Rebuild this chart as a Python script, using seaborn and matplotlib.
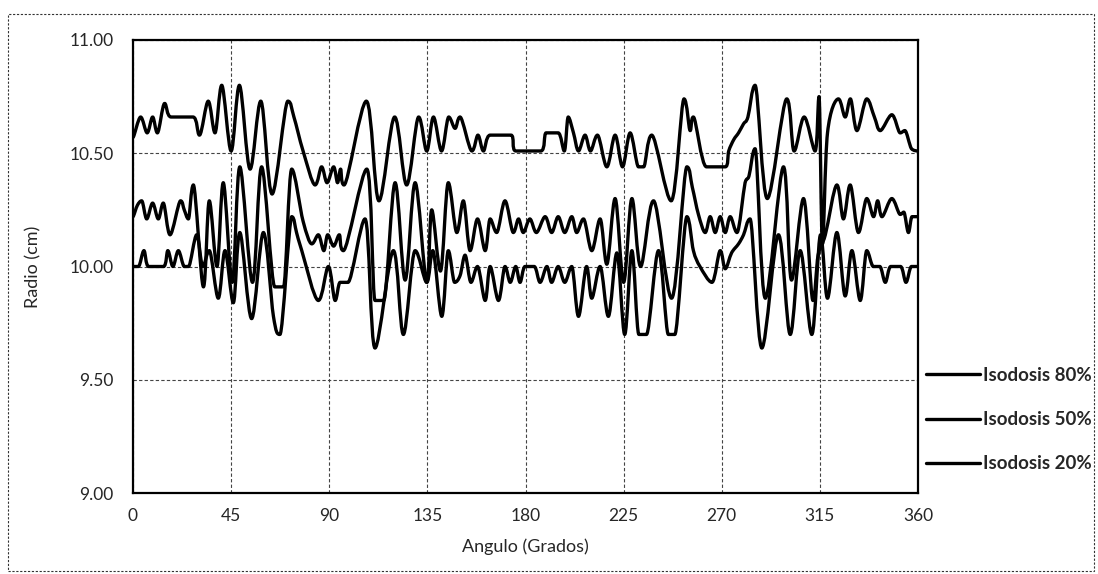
import matplotlib
matplotlib.use("Agg")
import matplotlib.pyplot as plt
from matplotlib.patches import Rectangle, PathPatch
from matplotlib.path import Path
import numpy as np
import seaborn as sns
import pandas as pd

# Radio de cada isodosis (cm) en función del ángulo (grados)
ang80 = [0, 3.5, 6.5, 9, 11.2, 14.5, 17.5, 27.5, 30.5, 34.5, 37.6, 40.7, 45, 48.8,
         53.7, 58.6, 63.8, 71, 73.8, 78, 83.5, 86.5, 89, 92, 93.8, 95.2, 96.8, 107,
         112.8, 120, 125.5, 131, 134.7, 137.8, 141.5, 144.8, 147.7, 150, 155.4, 158.2,
         160.7, 163.8, 173.3, 175.6, 187, 189.5, 195, 197.8, 199.6, 202, 204.3, 207.3,
         209.8, 213, 217.3, 221.1, 224.5, 228, 231.8, 234.2, 237.9, 246.8, 252.7, 255.5,
         257, 263, 271.6, 273.2, 275.5, 277.7, 280, 282, 285.3, 290.9, 299.8, 303.2,
         307.8, 312.8, 314.6, 316.2, 318.5, 323.5, 326.6, 329, 332, 336.5, 340, 342.7,
         348, 351.8, 354, 357, 360]
r80 = [10.57, 10.66, 10.59, 10.66, 10.59, 10.72, 10.66, 10.66, 10.58, 10.73, 10.59, 10.80,
       10.51, 10.80, 10.43, 10.73, 10.32, 10.73, 10.66, 10.51, 10.36, 10.44, 10.37, 10.44,
       10.37, 10.43, 10.36, 10.73, 10.29, 10.66, 10.36, 10.66, 10.51, 10.66, 10.51, 10.66,
       10.61, 10.66, 10.51, 10.58, 10.51, 10.58, 10.58, 10.51, 10.51, 10.59, 10.59, 10.51,
       10.66, 10.59, 10.51, 10.58, 10.51, 10.58, 10.44, 10.58, 10.44, 10.59, 10.44, 10.44,
       10.58, 10.29, 10.74, 10.60, 10.66, 10.44, 10.44, 10.51, 10.56, 10.59, 10.63, 10.66,
       10.80, 10.30, 10.74, 10.51, 10.66, 10.51, 10.75, 10.10, 10.59, 10.74, 10.66, 10.74,
       10.60, 10.74, 10.66, 10.60, 10.67, 10.59, 10.60, 10.52, 10.51]

ang50 = [0, 2, 4, 6.3, 9, 11.6, 13.9, 17, 21.8, 23.5, 25.4, 27.7, 32.3, 35, 38.5, 41.4,
         45.5, 49, 54.8, 59, 65, 69, 72.8, 78, 82, 85, 87.5, 89.3, 92, 94.6, 96.5, 107.2,
         111, 115, 120.2, 124.8, 129.4, 134.7, 137, 141, 144.6, 148.5, 151.5, 154.6, 158,
         161.5, 163.8, 166.8, 170.6, 174.4, 176.8, 179, 182, 185, 189, 192, 195, 198,
         201.2, 203.5, 206.6, 210.4, 214.2, 217.3, 221.1, 225, 228.8, 232.8, 238.7, 247,
         254, 256.5, 259.3, 262.4, 264.7, 267, 269.3, 271.6, 273.9, 277, 280.7, 282.5,
         285.3, 290, 298.3, 302, 307.5, 311.8, 314.2, 317.5, 322.8, 325.8, 328.9, 332.7,
         336.5, 339.6, 341.5, 343.5, 348, 351.8, 353.5, 355.6, 357.3, 360]
r50 = [10.22, 10.27, 10.29, 10.21, 10.28, 10.21, 10.28, 10.14, 10.29, 10.25, 10.21, 10.36,
       9.91, 10.29, 10.00, 10.37, 9.93, 10.44, 9.93, 10.44, 9.91, 9.91, 10.43, 10.20,
       10.10, 10.14, 10.07, 10.14, 10.09, 10.14, 10.07, 10.43, 9.85, 9.85, 10.37, 9.94,
       10.37, 9.93, 10.25, 9.98, 10.37, 10.15, 10.29, 10.07, 10.21, 10.07, 10.21, 10.15,
       10.29, 10.15, 10.21, 10.15, 10.21, 10.15, 10.22, 10.15, 10.22, 10.15, 10.22, 10.15,
       10.21, 10.07, 10.21, 10.01, 10.30, 9.93, 10.30, 10.00, 10.29, 9.86, 10.44, 10.35,
       10.23, 10.15, 10.22, 10.15, 10.22, 10.15, 10.22, 10.15, 10.37, 10.40, 10.52, 9.86,
       10.44, 9.94, 10.30, 9.85, 10.05, 10.14, 10.36, 10.21, 10.36, 10.15, 10.30, 10.22,
       10.29, 10.22, 10.30, 10.23, 10.24, 10.15, 10.22, 10.22]

ang20 = [0, 2.5, 5, 7.2, 14, 16, 18.3, 20.8, 23.5, 25.5, 29.2, 32, 35, 39.1, 42.2, 46,
         49, 54.4, 59.8, 64.4, 67.4, 72.8, 75, 77.4, 85, 89.6, 92.7, 95, 98.6, 106.4, 111,
         119.4, 124, 129.4, 134.7, 137.5, 141.6, 144.6, 147.5, 150, 152.3, 155, 158, 161.5,
         163.8, 167.6, 170.6, 173, 175.5, 177.5, 179.8, 184, 186.7, 189.8, 192, 195, 198,
         201.2, 204.3, 208, 210.4, 214.2, 218, 221.9, 225.5, 228.8, 232, 235.5, 241, 245.5,
         248.5, 254, 257, 260, 265.5, 269.3, 271.6, 274.5, 277.7, 280, 283, 288.4, 296,
         301.4, 306, 311.3, 315.3, 318.5, 322.8, 326.6, 329.7, 333.5, 336.5, 339.5, 342.5,
         345, 347.5, 352, 354.5, 357, 360]
r20 = [10.00, 10.00, 10.07, 10.00, 10.00, 10.07, 10.00, 10.07, 10.00, 10.00, 10.14, 10.00,
       10.07, 9.86, 10.07, 9.84, 10.15, 9.77, 10.15, 9.78, 9.70, 10.22, 10.15, 10.07, 9.85,
       10.00, 9.85, 9.93, 9.93, 10.21, 9.64, 10.07, 9.70, 10.07, 9.93, 10.07, 9.78, 10.07,
       9.93, 9.96, 10.05, 9.93, 10.00, 9.85, 10.00, 9.85, 10.00, 9.93, 10.00, 9.93, 10.00,
       10.00, 9.93, 10.00, 9.93, 10.00, 9.93, 10.00, 9.78, 10.00, 9.86, 10.00, 9.78, 10.06,
       9.70, 10.07, 9.70, 9.70, 10.07, 9.70, 9.70, 10.22, 10.07, 10.00, 9.93, 10.07, 9.99,
       10.06, 10.10, 10.14, 10.21, 9.64, 10.14, 9.70, 10.07, 9.70, 10.14, 9.86, 10.15, 9.87,
       10.07, 9.85, 10.07, 10.00, 10.00, 9.93, 10.00, 10.00, 9.93, 10.00, 10.00]

series_names = ["Isodosis 80%", "Isodosis 50%", "Isodosis 20%"]
x_ticks = [0, 45, 90, 135, 180, 225, 270, 315, 360]
y_ticks = [9.00, 9.50, 10.00, 10.50, 11.00]

df = pd.concat([
    pd.DataFrame({"Angulo": ang80, "Radio": r80, "Serie": series_names[0]}),
    pd.DataFrame({"Angulo": ang50, "Radio": r50, "Serie": series_names[1]}),
    pd.DataFrame({"Angulo": ang20, "Radio": r20, "Serie": series_names[2]}),
], ignore_index=True)

sns.set_style("white")
plt.rcParams["font.family"] = ["Lato", "DejaVu Sans"]

LW = 2.4
fig = plt.figure(figsize=(10.98, 5.74), dpi=100)
ax = fig.add_axes([133 / 1098, 1 - 493 / 574, (918 - 133) / 1098, (493 - 40) / 574])

sns.lineplot(data=df, x="Angulo", y="Radio", hue="Serie", hue_order=series_names,
             palette=["black"] * 3, estimator=None, linewidth=LW, ax=ax)

ax.set_xlim(0, 360)
ax.set_ylim(9.0, 11.0)
ax.set_xticks(x_ticks)
ax.set_xticklabels([str(t) for t in x_ticks], fontsize=12.5)
ax.set_yticks(y_ticks)
ax.set_yticklabels([f"{t:.2f}" for t in y_ticks], fontsize=12.5)
ax.tick_params(axis="both", length=0)
ax.tick_params(axis="y", pad=14)
ax.tick_params(axis="x", pad=11)

ax.grid(True, color="#444444", linestyle=(0, (3, 2)), linewidth=0.8)
ax.set_axisbelow(True)
for s in ax.spines.values():
    s.set_visible(True)
    s.set_color("black")
    s.set_linewidth(1.6)

ax.set_xlabel("Angulo (Grados)", fontsize=13, labelpad=10)
ax.set_ylabel("Radio (cm)", fontsize=13, labelpad=20)

leg = ax.legend(loc="upper left", bbox_to_anchor=(926 / 1098, 1 - 367 / 574),
                bbox_transform=fig.transFigure, frameon=False, borderpad=0,
                borderaxespad=0, handlelength=2.9, handletextpad=0.15,
                labelspacing=1.45, prop={"weight": "bold", "size": 13.5})
for line in leg.get_lines():
    line.set_linewidth(LW)


def smooth_path(x, y):
    """Curva Bézier suavizada que pasa por los puntos sin rebasar los extremos."""
    p = np.column_stack([x, y])
    n = len(p)
    tang = np.zeros_like(p)
    for i in range(n):
        a = p[i - 1] if i > 0 else p[i]
        b = p[i + 1] if i + 1 < n else p[i]
        tang[i] = (b - a) / 6.0
        dy0 = p[i, 1] - a[1]
        dy1 = b[1] - p[i, 1]
        if dy0 * dy1 <= 0:  # máximo, mínimo o tramo plano: tangente horizontal
            tang[i, 1] = 0.0
    verts = [p[0]]
    codes = [Path.MOVETO]
    for i in range(n - 1):
        p1, p2 = p[i], p[i + 1]
        c1 = p1 + tang[i]
        c2 = p2 - tang[i + 1]
        lo_x, hi_x = p1[0], p2[0]
        lo_y, hi_y = min(p1[1], p2[1]), max(p1[1], p2[1])
        for c in (c1, c2):
            c[0] = min(max(c[0], lo_x), hi_x)
            c[1] = min(max(c[1], lo_y), hi_y)
        verts += [c1, c2, p2]
        codes += [Path.CURVE4] * 3
    return Path(np.array(verts), codes)


# Cada polilínea se dibuja como línea suavizada
for line in list(ax.get_lines()):
    xd, yd = line.get_xdata(), line.get_ydata()
    if len(xd) < 3:
        continue
    patch = PathPatch(smooth_path(np.asarray(xd, float), np.asarray(yd, float)),
                      facecolor="none", edgecolor=line.get_color(), linewidth=LW,
                      joinstyle="round", capstyle="round", zorder=line.get_zorder())
    ax.add_patch(patch)
    line.set_visible(False)

# Marco punteado exterior del gráfico
fig.add_artist(Rectangle((8 / 1098, 1 - 571 / 574), (1094 - 8) / 1098, (571 - 14) / 574,
                         transform=fig.transFigure, fill=False, edgecolor="#333333",
                         linewidth=0.8, linestyle=(0, (2, 1.5))))

fig.savefig("out.png", dpi=100)
